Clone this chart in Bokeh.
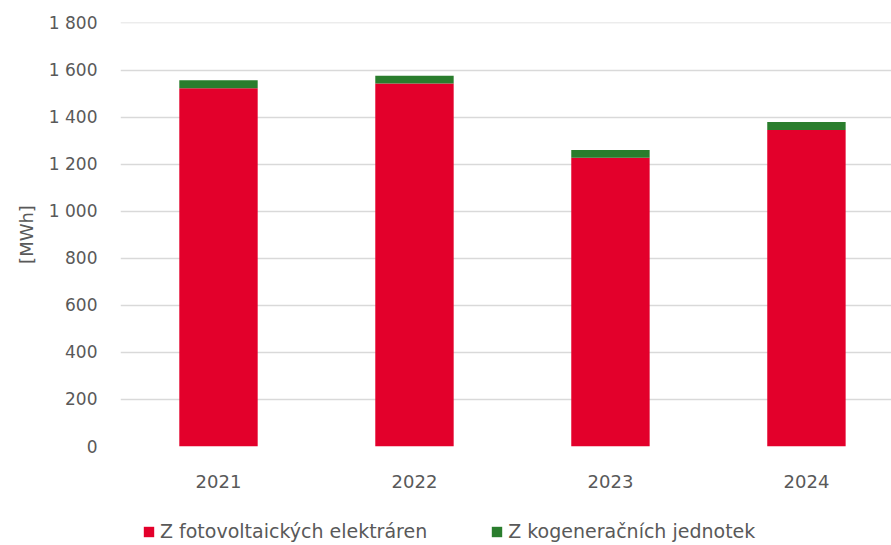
from bokeh.plotting import figure
from bokeh.layouts import column
from bokeh.models import ColumnDataSource, Legend, LegendItem, FixedTicker, Range1d
from bokeh.embed import file_html
from bokeh.resources import INLINE

years = ["2021", "2022", "2023", "2024"]
fotovoltaicke = [1523, 1543, 1227, 1345]
kogeneracni = [34, 33, 33, 34]
y_ticks = [0, 200, 400, 600, 800, 1000, 1200, 1400, 1600, 1800]
y_tick_labels = ["0", "200", "400", "600", "800", "1 000", "1 200", "1 400", "1 600", "1 800"]
series_names = ["Z fotovoltaických elektráren", "Z kogeneračních jednotek"]
colors = ["#E3002B", "#2A7D2D"]

FONT = "DejaVu Sans"
TXT = "#595959"

xpos = [i + 0.5 for i in range(len(years))]
src = ColumnDataSource(dict(x=xpos, fv=fotovoltaicke, kg=kogeneracni))

p = figure(x_range=Range1d(0, 3.934), y_range=Range1d(0, 1802), width=891, height=500,
           output_backend="svg", toolbar_location=None,
           min_border_left=120, min_border_right=0, min_border_top=22, min_border_bottom=54)

r = p.vbar_stack(["fv", "kg"], x="x", width=0.4, color=colors, source=src, line_width=0)

p.outline_line_color = None
p.xgrid.grid_line_color = None
p.ygrid.grid_line_color = "#D9D9D9"
p.ygrid.grid_line_width = 1.5
p.ygrid.ticker = FixedTicker(ticks=y_ticks)

p.yaxis.ticker = FixedTicker(ticks=y_ticks)
p.yaxis.major_label_overrides = {t: l for t, l in zip(y_ticks, y_tick_labels)}
p.yaxis.axis_line_color = None
p.yaxis.major_tick_line_color = None
p.yaxis.minor_tick_line_color = None
p.yaxis.major_label_text_font = FONT
p.yaxis.major_label_text_font_size = "17px"
p.yaxis.major_label_text_color = TXT
p.yaxis.major_label_standoff = 17
p.yaxis.axis_label = "[MWh]"
p.yaxis.axis_label_text_font = FONT
p.yaxis.axis_label_text_font_size = "18px"
p.yaxis.axis_label_text_font_style = "normal"
p.yaxis.axis_label_text_color = TXT
p.yaxis.axis_label_standoff = 9

p.xaxis.ticker = FixedTicker(ticks=xpos)
p.xaxis.major_label_overrides = {x: y for x, y in zip(xpos, years)}
p.xaxis.axis_line_color = None
p.xaxis.major_tick_line_color = None
p.xaxis.minor_tick_line_color = None
p.xaxis.major_label_text_font = FONT
p.xaxis.major_label_text_font_size = "18px"
p.xaxis.major_label_text_color = TXT
p.xaxis.major_label_standoff = 22

# legend row
p2 = figure(x_range=Range1d(0, 1), y_range=Range1d(0, 1), width=891, height=45,
            output_backend="svg", toolbar_location=None,
            x_axis_type=None, y_axis_type=None,
            min_border_left=0, min_border_right=0, min_border_top=0, min_border_bottom=0)
p2.outline_line_color = None
p2.xgrid.visible = False
p2.ygrid.visible = False
dummy = [p2.vbar(x=[-5], top=[-5], bottom=[-6], width=0.1, color=c, line_width=0) for c in colors]

legend = Legend(items=[LegendItem(label=series_names[i], renderers=[dummy[i]]) for i in range(2)],
                orientation="horizontal", location=(22, 3),
                label_text_font=FONT, label_text_font_size="19px", label_text_color=TXT,
                glyph_width=13, glyph_height=13, spacing=63, label_standoff=5,
                border_line_color=None, background_fill_alpha=0,
                margin=0, padding=0)
p2.add_layout(legend)

layout = column(p, p2, spacing=0)
open("out.html", "w").write(file_html(layout, INLINE))
